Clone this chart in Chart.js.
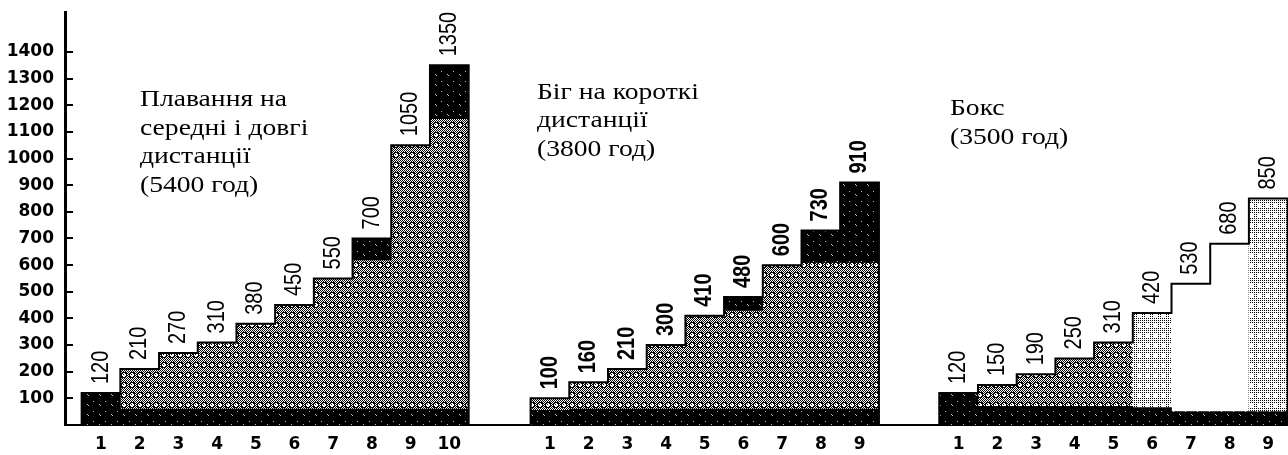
<!DOCTYPE html>
<html>
<head>
<meta charset="utf-8">
<script src="https://cdn.jsdelivr.net/npm/chart.js@4.4.1/dist/chart.umd.min.js"></script>
<style>
  html, body { margin: 0; padding: 0; background: #fff; }
  canvas { display: block; }
</style>
</head>
<body>
<canvas id="chartSteps" width="1288" height="455"></canvas>
<script>
'use strict';

// --- data (hours per stage) ---
var swimLabels = ['1', '2', '3', '4', '5', '6', '7', '8', '9', '10'];
var swimValues = [120, 210, 270, 310, 380, 450, 550, 700, 1050, 1350];
var swimBase = [120, 60, 60, 60, 60, 60, 60, 60, 60, 60];
var swimTop = [null, null, null, null, null, null, null, [620, 700], null, [1150, 1350]];
var swimTitle = ['Плавання на', 'середні і довгі', 'дистанції', '(5400 год)'];

var runLabels = ['1', '2', '3', '4', '5', '6', '7', '8', '9'];
var runValues = [100, 160, 210, 300, 410, 480, 600, 730, 910];
var runBase = [55, 60, 60, 60, 60, 60, 60, 60, 60];
var runTop = [null, null, null, null, null, [430, 480], null, [610, 730], [610, 910]];
var runTitle = ['Біг на короткі', 'дистанції', '(3800 год)'];

var boxLabels = ['1', '2', '3', '4', '5', '6', '7', '8', '9'];
var boxValues = [120, 150, 190, 250, 310, 420, 530, 680, 850];
var boxBase = [120, 70, 70, 70, 70, 65, 50, 50, 50];
var boxTitle = ['Бокс', '(3500 год)'];

var yTicks = [100, 200, 300, 400, 500, 600, 700, 800, 900, 1000, 1100, 1200, 1300, 1400];

// --- fills ---
var canvas = document.getElementById('chartSteps');
var ctx = canvas.getContext('2d');

function makePattern(w, h, paint){
  var c = document.createElement('canvas');
  c.width = w; c.height = h;
  var p = c.getContext('2d');
  paint(p, w, h);
  return ctx.createPattern(c, 'repeat');
}

function checker(p, w, h, step){
  p.fillStyle = '#000';
  for(let y = 0; y < h; y += step){
    for(let x = 0; x < w; ++x){
      if((x + y) % 2 === 0) p.fillRect(x, y, 1, 1);
    }
  }
}

// gray halftone with white rings, like the scan
var midFill = makePattern(8, 10, function(p, w, h){
  p.fillStyle = '#fff';
  p.fillRect(0, 0, w, h);
  checker(p, w, h, 1);
  p.fillStyle = '#000';
  p.fillRect(2, 2, 4, 6);
  p.fillRect(1, 3, 6, 4);
  p.fillStyle = '#fff';
  p.fillRect(3, 3, 2, 4);
  p.fillRect(2, 4, 4, 2);
  p.fillStyle = '#000';
  p.fillRect(3, 4, 1, 1);
});

var lightFill = makePattern(8, 10, function(p, w, h){
  p.fillStyle = '#fff';
  p.fillRect(0, 0, w, h);
  checker(p, w, h, 2);
  p.fillStyle = '#fff';
  p.fillRect(2, 3, 4, 4);
});

var darkFill = makePattern(12, 10, function(p, w, h){
  p.fillStyle = '#000';
  p.fillRect(0, 0, w, h);
  p.fillStyle = '#bbb';
  p.fillRect(3, 4, 1, 1);
  p.fillRect(4, 5, 1, 1);
  p.fillRect(9, 1, 1, 1);
});

var groups = [
  {labels: swimLabels, values: swimValues, base: swimBase, top: swimTop, title: swimTitle,
   start: 0.93, titleAt: [140, 106], bold: false},
  {labels: runLabels, values: runValues, base: runBase, top: runTop, title: runTitle,
   start: 12.53, titleAt: [537, 98.5], bold: true},
  {labels: boxLabels, values: boxValues, base: boxBase, top: null, title: boxTitle,
   start: 23.09, titleAt: [950, 115], bold: false,
   fill: [midFill, midFill, midFill, midFill, midFill, lightFill, '#fff', '#fff', lightFill]}
];

// build the datasets from the arrays above
var centers = [], tickText = [], barData = [], baseData = [], topData = [];
var fills = [], valueText = [], valueBold = [], outlines = [];
groups.forEach(function(g){
  var pts = [{x: g.start - 0.5, y: 0}];
  g.values.forEach(function(v, i){
    var cx = g.start + i;
    centers.push(cx);
    tickText.push(g.labels[i]);
    barData.push({x: cx, y: v});
    baseData.push({x: cx, y: g.base[i]});
    if(g.top && g.top[i]) topData.push({x: cx, y: g.top[i]});
    fills.push(g.fill ? g.fill[i] : midFill);
    valueText.push(String(v));
    valueBold.push(g.bold);
    pts.push({x: cx + 0.5, y: v});
  });
  pts.push({x: g.start + g.values.length - 0.5, y: 0});
  outlines.push(pts);
});

var datasets = outlines.map(function(pts){
  return {
    type: 'line', data: pts, stepped: 'after', fill: false,
    borderColor: '#000', borderWidth: 2, pointRadius: 0,
    borderJoinStyle: 'miter', borderCapStyle: 'square', order: 0
  };
});
datasets.push({data: topData, backgroundColor: darkFill, grouped: false, borderWidth: 0, order: 1});
datasets.push({data: baseData, backgroundColor: darkFill, grouped: false, borderWidth: 0, order: 2});
datasets.push({data: barData, backgroundColor: fills, grouped: false, borderWidth: 0, order: 3});
var mainIndex = datasets.length - 1;

var stepLabels = {
  id: 'stepLabels',
  afterDatasetsDraw: function(chart){
    var c = chart.ctx;
    var meta = chart.getDatasetMeta(mainIndex);
    c.save();
    c.fillStyle = '#000';
    meta.data.forEach(function(bar, i){
      c.save();
      c.translate(bar.x, bar.y - 9);
      c.rotate(-Math.PI / 2);
      c.scale(1, 1.2);
      c.font = (valueBold[i] ? 'bold ' : '') + '20px "Liberation Sans"';
      c.textAlign = 'left';
      c.textBaseline = 'middle';
      c.fillText(valueText[i], 0, 0);
      c.restore();
    });
    c.font = '23px "Liberation Serif"';
    c.textAlign = 'left';
    c.textBaseline = 'alphabetic';
    groups.forEach(function(g){
      c.save();
      c.translate(g.titleAt[0], g.titleAt[1]);
      c.scale(1.2, 1);
      g.title.forEach(function(line, k){
        c.fillText(line, 0, k * 28.5);
      });
      c.restore();
    });
    c.restore();
  }
};

new Chart(ctx, {
  type: 'bar',
  data: {datasets: datasets},
  options: {
    responsive: false,
    animation: false,
    layout: {padding: {top: 12, left: 0, right: 0, bottom: 0}},
    datasets: {bar: {barPercentage: 1, categoryPercentage: 1}},
    plugins: {legend: {display: false}, tooltip: {enabled: false}},
    scales: {
      x: {
        type: 'linear', min: 0, max: 31.6, offset: false,
        grid: {display: true, drawOnChartArea: false, drawTicks: false, offset: false},
        border: {display: true, color: '#000', width: 2},
        afterBuildTicks: function(s){ s.ticks = centers.map(function(v){ return {value: v}; }); },
        afterFit: function(s){ s.height = 30; s.paddingLeft = 0; s.paddingRight = 0; },
        ticks: {
          autoSkip: false, maxRotation: 0, padding: 9, color: '#000',
          font: {family: 'DejaVu Sans', size: 17, weight: 'bold'},
          callback: function(v, i){ return tickText[i]; }
        }
      },
      y: {
        min: 0, max: 1550,
        grid: {display: true, drawOnChartArea: false, drawTicks: true, tickLength: -8, color: '#000', lineWidth: 2},
        border: {display: true, color: '#000', width: 3},
        afterBuildTicks: function(s){ s.ticks = yTicks.map(function(v){ return {value: v}; }); },
        afterFit: function(s){ s.width = 65; s.paddingTop = 0; s.paddingBottom = 0; },
        ticks: {
          padding: 19, color: '#000',
          font: {family: 'DejaVu Sans', size: 17, weight: 'bold'},
          callback: function(v){ return String(v); }
        }
      }
    }
  },
  plugins: [stepLabels]
});
</script>
</body>
</html>
